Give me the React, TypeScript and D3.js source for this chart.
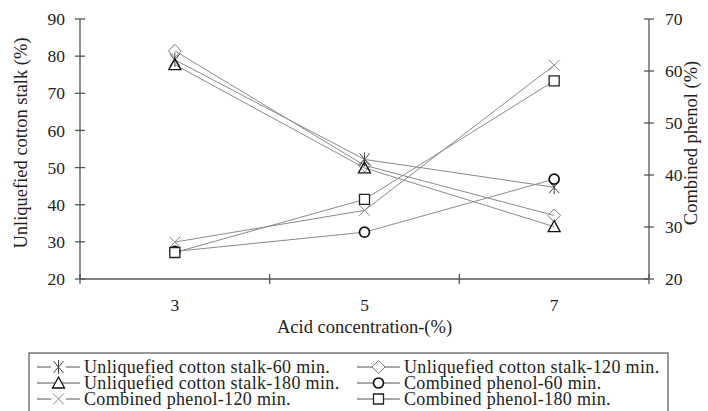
import * as d3 from "d3";

const categories = ["3", "5", "7"];

// left axis series (Unliquefied cotton stalk, %)
const ucs60 = [79.0, 52.2, 44.7];
const ucs120 = [81.4, 50.6, 37.1];
const ucs180 = [77.7, 49.9, 34.1];
// right axis series (Combined phenol, %)
const cp60 = [25.3, 29.0, 39.2];
const cp120 = [27.1, 33.2, 61.1];
const cp180 = [25.1, 35.3, 58.1];

const leftTicks = [20, 30, 40, 50, 60, 70, 80, 90];
const rightTicks = [20, 30, 40, 50, 60, 70];

const W = 708, H = 411;
const plot = { left: 80, right: 649, top: 19, bottom: 279 };
const FONT = "'Liberation Serif', 'Times New Roman', serif";
const LINE = "#8a8a8a";

const markerPath: Record<string, string> = {
  star: "M-5,-6L5,6M-5,6L5,-6M0,-7L0,7",
  diamond: "M0,-6.5L6.5,0L0,6.5L-6.5,0Z",
  triangle: "M0,-6L6,5H-6Z",
  circle: "M5,0A5,5 0 1,1 -5,0A5,5 0 1,1 5,0Z",
  x: "M-5.5,-5.5L5.5,5.5M-5.5,5.5L5.5,-5.5",
  square: "M-5,-5H5V5H-5Z",
};

const series = [
  { name: "Unliquefied cotton stalk-60 min.", values: ucs60, axis: "left", marker: "star", color: "#444", sw: 1, fill: "none" },
  { name: "Unliquefied cotton stalk-120 min.", values: ucs120, axis: "left", marker: "diamond", color: "#777", sw: 1, fill: "none" },
  { name: "Unliquefied cotton stalk-180 min.", values: ucs180, axis: "left", marker: "triangle", color: "#111", sw: 1.3, fill: "none" },
  { name: "Combined phenol-60 min.", values: cp60, axis: "right", marker: "circle", color: "#111", sw: 1.7, fill: "white" },
  { name: "Combined phenol-120 min.", values: cp120, axis: "right", marker: "x", color: "#888", sw: 1, fill: "none" },
  { name: "Combined phenol-180 min.", values: cp180, axis: "right", marker: "square", color: "#222", sw: 1.3, fill: "white" },
];

export default function App() {
  const x = d3.scaleBand<string>().domain(categories).range([plot.left, plot.right]).padding(0);
  const cx = (c: string) => (x(c) ?? 0) + x.bandwidth() / 2;
  const yL = d3.scaleLinear().domain([20, 90]).range([plot.bottom, plot.top]);
  const yR = d3.scaleLinear().domain([20, 70]).range([plot.bottom, plot.top]);
  const line = d3.line<[number, number]>().x(d => d[0]).y(d => d[1]);

  const xBounds = [plot.left, ...categories.map(c => (x(c) ?? 0) + x.bandwidth())];

  const legendCols = [37, 357];
  const legendRows = [373, 389, 405];

  return (
    <svg width={W} height={H} style={{ position: "absolute", left: 0, top: 0, background: "white" }} fontFamily={FONT}>
      {/* axes */}
      <g stroke="#555" strokeWidth={1.3}>
        <line x1={plot.left} x2={plot.left} y1={plot.top} y2={plot.bottom} />
        <line x1={plot.right} x2={plot.right} y1={plot.top} y2={plot.bottom} />
        <line x1={plot.left} x2={plot.right} y1={plot.bottom} y2={plot.bottom} />
        {leftTicks.map(t => (
          <line key={"lt" + t} x1={plot.left - 5} x2={plot.left + 5} y1={yL(t)} y2={yL(t)} />
        ))}
        {rightTicks.map(t => (
          <line key={"rt" + t} x1={plot.right - 5} x2={plot.right + 5} y1={yR(t)} y2={yR(t)} />
        ))}
        {xBounds.map((b, i) => (
          <line key={"xt" + i} x1={b} x2={b} y1={plot.bottom - 5} y2={plot.bottom + 5} />
        ))}
      </g>
      <g fontSize={17.5} fill="#222">
        {leftTicks.map(t => (
          <text key={"ll" + t} x={65} y={yL(t)} dy="0.35em" textAnchor="end">{t}</text>
        ))}
        {rightTicks.map(t => (
          <text key={"rl" + t} x={665} y={yR(t)} dy="0.35em">{t}</text>
        ))}
        {categories.map(c => (
          <text key={"xl" + c} x={cx(c)} y={311} textAnchor="middle">{c}</text>
        ))}
      </g>
      <g fontSize={18.5} fill="#222">
        <text x={(plot.left + plot.right) / 2} y={333} textAnchor="middle">Acid concentration-(%)</text>
        <text transform="translate(27,143) rotate(-90)" textAnchor="middle">Unliquefied cotton stalk (%)</text>
        <text transform="translate(697,143) rotate(-90)" textAnchor="middle">Combined phenol (%)</text>
      </g>

      {/* series lines */}
      {series.map(s => {
        const y = s.axis === "left" ? yL : yR;
        const pts = s.values.map((v, i) => [cx(categories[i]), y(v)] as [number, number]);
        return <path key={"p" + s.name} d={line(pts) ?? ""} fill="none" stroke={LINE} strokeWidth={1} />;
      })}
      {/* markers */}
      {series.map(s => {
        const y = s.axis === "left" ? yL : yR;
        return (
          <g key={"m" + s.name}>
            {s.values.map((v, i) => (
              <path key={i} transform={`translate(${cx(categories[i])},${y(v)})`} d={markerPath[s.marker]}
                fill={s.fill} stroke={s.color} strokeWidth={s.sw} />
            ))}
          </g>
        );
      })}

      {/* legend */}
      <rect x={29} y={353} width={639} height={70} fill="none" stroke="#333" strokeWidth={1} />
      {series.map((s, i) => {
        const col = legendCols[i % 2];
        const row = legendRows[Math.floor(i / 2)];
        const my = row - 6;
        const gap = s.marker === "star" || s.marker === "x";
        return (
          <g key={"lg" + s.name}>
            <line x1={col} x2={col + 43} y1={my} y2={my} stroke="#555" strokeWidth={1} />
            {gap && <rect x={col + 14} y={my - 7} width={15} height={14} fill="white" />}
            <path transform={`translate(${col + 21.5},${my})`} d={markerPath[s.marker]}
              fill="white" stroke={s.color} strokeWidth={s.sw} />
            <text x={col + 47} y={row} fontSize={18} letterSpacing={0.35} fill="#222">{s.name}</text>
          </g>
        );
      })}
    </svg>
  );
}
